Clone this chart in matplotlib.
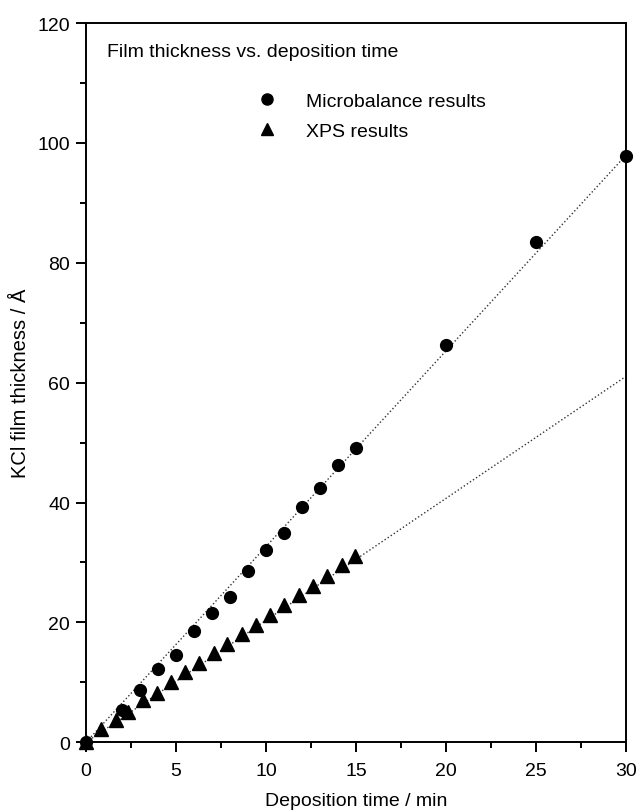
import matplotlib.pyplot as plt
from matplotlib.lines import Line2D
from matplotlib.ticker import MultipleLocator

plt.rcParams['font.family'] = ['Liberation Sans', 'DejaVu Sans']

# Microbalance results (circles)
mb_time = [0, 2, 3, 4, 5, 6, 7, 8, 9, 10, 11, 12, 13, 14, 15, 20, 25, 30]
mb_thick = [0, 5.4, 8.7, 12.2, 14.6, 18.5, 21.6, 24.3, 28.5, 32.1, 34.9,
            39.2, 42.4, 46.2, 49.1, 66.3, 83.4, 97.9]

# XPS results (triangles)
xps_time = [0, 0.86, 1.64, 2.36, 3.19, 3.97, 4.74, 5.52, 6.30, 7.09, 7.86,
            8.66, 9.46, 10.23, 11.02, 11.84, 12.63, 13.41, 14.21, 14.95]
xps_thick = [0, 2.2, 3.7, 5.0, 7.0, 8.3, 10.0, 11.7, 13.3, 14.9, 16.4,
             18.0, 19.6, 21.2, 22.9, 24.5, 26.1, 27.8, 29.5, 31.0]

# slopes of the dotted guide lines
mb_slope = 3.265
xps_slope = 2.035
fit_x = [0, 30]

fig = plt.figure(figsize=(6.37, 8.12), dpi=100)
ax = fig.add_axes([0.1350, 0.0846, 0.8477, 0.8858])

ax.plot(fit_x, [mb_slope * v for v in fit_x], linestyle=':', color='#333333', lw=1.0)
ax.plot(fit_x, [xps_slope * v for v in fit_x], linestyle=':', color='#333333', lw=1.0)

ax.plot(mb_time, mb_thick, 'o', color='black', markersize=8.5, clip_on=False, zorder=3)
ax.plot(xps_time, xps_thick, '^', color='black', markersize=10, clip_on=False, zorder=3)

ax.set_xlim(0, 30)
ax.set_ylim(0, 120)
ax.xaxis.set_major_locator(MultipleLocator(5))
ax.xaxis.set_minor_locator(MultipleLocator(2.5))
ax.yaxis.set_major_locator(MultipleLocator(20))
ax.yaxis.set_minor_locator(MultipleLocator(10))
ax.tick_params(which='major', direction='out', length=7.5, width=1.4, labelsize=14)
ax.tick_params(which='minor', direction='out', length=4.3, width=1.4)
ax.tick_params(axis='x', which='major', pad=7)
ax.tick_params(axis='y', which='major', pad=4)
ax.tick_params(top=False, right=False)
for s in ax.spines.values():
    s.set_linewidth(1.4)

ax.set_xlabel('Deposition time / min', fontsize=14, labelpad=9)
ax.set_ylabel('KCl film thickness / Å', fontsize=14.5, labelpad=5)

ax.text(0.039, 0.961, 'Film thickness vs. deposition time', transform=ax.transAxes,
        fontsize=14, ha='left', va='center')

handles = [Line2D([], [], marker='o', color='black', linestyle='none', markersize=8),
           Line2D([], [], marker='^', color='black', linestyle='none', markersize=9)]
ax.legend(handles, ['Microbalance results', 'XPS results'], loc='upper left',
          bbox_to_anchor=(0.303, 0.915), borderaxespad=0, frameon=False,
          fontsize=14, handlelength=1.0, handletextpad=1.5, labelspacing=0.65)

fig.savefig('out.png', dpi=100)
